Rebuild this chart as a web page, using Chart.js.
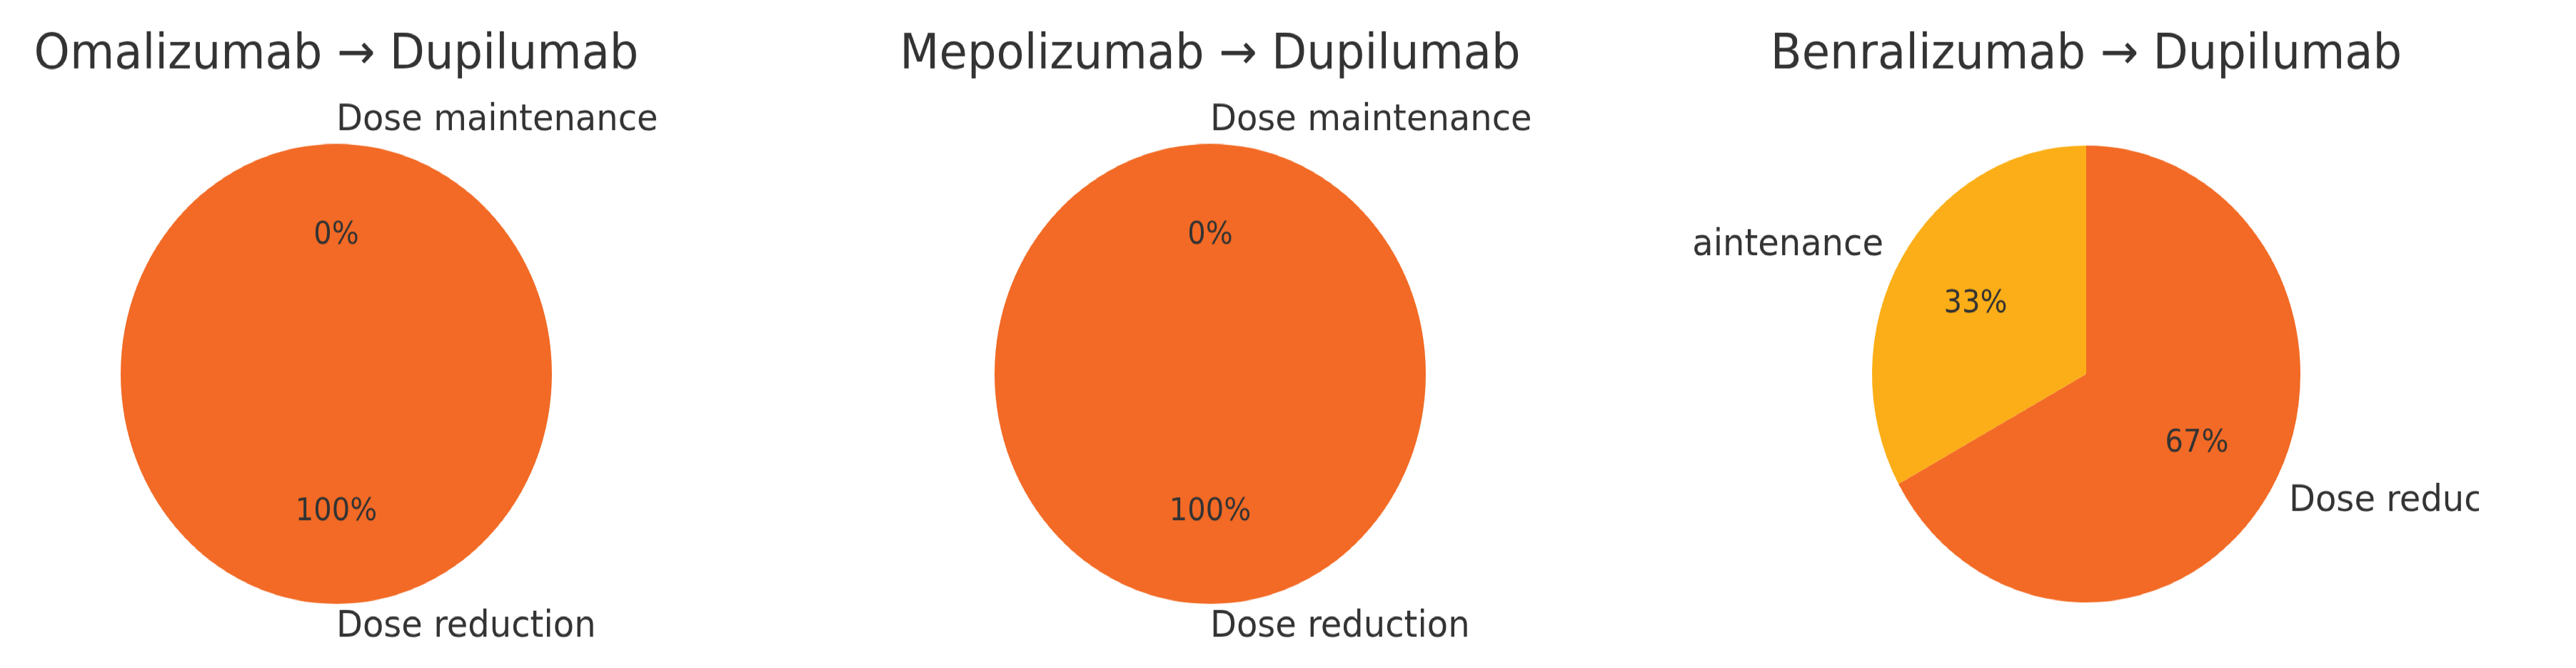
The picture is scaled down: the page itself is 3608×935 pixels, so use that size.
<!DOCTYPE html>
<html><head><meta charset="utf-8">
<script src="https://cdn.jsdelivr.net/npm/chart.js@4.4.1/dist/chart.umd.min.js"></script>
<style>
html,body{margin:0;padding:0;background:#fff;overflow:hidden;width:3608px;height:935px}
#wrap{position:absolute;left:0;top:0;width:3608px;height:877px;transform:scaleY(1.066);transform-origin:0 0}
.box{position:absolute;top:0;width:1100px;height:877px}
</style></head><body>
<div id="wrap"></div>
<script>
const titles = ['Omalizumab \u2192 Dupilumab','Mepolizumab \u2192 Dupilumab','Benralizumab \u2192 Dupilumab'];
const categories = ['Dose reduction','Dose maintenance'];
const reductionPct = [100,100,67];
const maintenancePct = [0,0,33];
const colors = ['#F26A25','#FBAE17'];
const centersX = [471,1695,2922];
const radii = [302,302,300];
const centerY = 491;

const labelPlugin = {
  id:'mplLabels',
  afterDraw(chart){
    const ctx = chart.ctx;
    const meta = chart.getDatasetMeta(0);
    const ds = chart.data.datasets[0];
    ctx.save();
    ctx.fillStyle = '#333333';
    ctx.font = '64px "DejaVu Sans"';
    ctx.textAlign='center'; ctx.textBaseline='alphabetic';
    ctx.fillText(chart.options.plugins.mplLabels.title, chart.width/2, 90);
    meta.data.forEach((arc,i)=>{
      const p = arc.getProps(['x','y','startAngle','endAngle','outerRadius'],true);
      const mid = (p.startAngle+p.endAngle)/2;
      const c = Math.cos(mid), s = Math.sin(mid);
      const r = p.outerRadius;
      ctx.textBaseline='middle';
      ctx.font='48px "DejaVu Sans"';
      const lx = p.x + 1.1*r*c, ly = p.y + 1.1*r*s;
      ctx.textAlign = (c > 0 || (Math.abs(c)<1e-9 && i===1)) ? 'left' : 'right';
      ctx.fillText(chart.data.labels[i], lx, ly);
      ctx.font='40px "DejaVu Sans"';
      ctx.textAlign='center';
      ctx.fillText(Math.round(ds.data[i])+'%', p.x+0.6*r*c, p.y+0.6*r*s);
    });
    ctx.restore();
  }
};

const wrap = document.getElementById('wrap');
for(let k=0;k<3;k++){
  const box = document.createElement('div');
  box.className='box';
  box.style.left = (centersX[k]-550)+'px';
  const cv = document.createElement('canvas');
  box.appendChild(cv); wrap.appendChild(box);
  const r = radii[k];
  const top = centerY - r, bottom = 877 - centerY - r, side = 550 - r;
  new Chart(cv,{
    type:'pie',
    data:{labels:categories,datasets:[{data:[reductionPct[k],maintenancePct[k]],backgroundColor:colors,borderWidth:0}]},
    options:{
      responsive:true,maintainAspectRatio:false,animation:false,devicePixelRatio:1,
      layout:{padding:{top:top,bottom:bottom,left:side,right:side}},
      plugins:{legend:{display:false},tooltip:{enabled:false},mplLabels:{title:titles[k]}}
    },
    plugins:[labelPlugin]
  });
}
</script>
</body></html>
